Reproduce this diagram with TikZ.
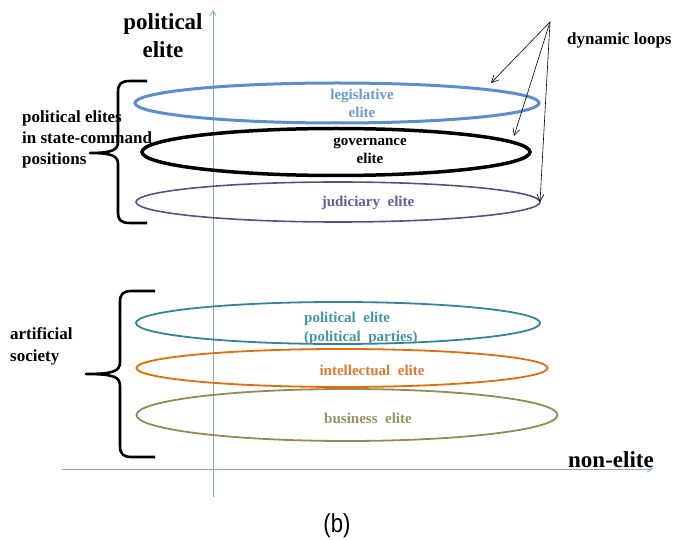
\documentclass[tikz,border=0pt]{standalone}
\usepackage{fontspec}
\setmainfont{Liberation Serif}
\newfontfamily\captionfont{Liberation Sans}
\usetikzlibrary{shapes.geometric,arrows.meta}
\definecolor{legc}{HTML}{5B8ED0}
\definecolor{legt}{HTML}{6A9AD4}
\definecolor{judc}{HTML}{5E4C87}
\definecolor{judt}{HTML}{6A5A96}
\definecolor{parc}{HTML}{31849B}
\definecolor{part}{HTML}{4595AA}
\definecolor{intc}{HTML}{E46C0A}
\definecolor{intt}{HTML}{E07A30}
\definecolor{busc}{HTML}{948A54}
\definecolor{bust}{HTML}{9B9060}
\definecolor{axisc}{HTML}{7FA8D2}
\tikzset{
  loop/.style={ellipse, draw, inner sep=0pt, outer sep=0pt},
  lbl/.style={font=\bfseries\fontsize{15}{18}\selectfont, align=center, inner sep=0pt},
  side/.style={font=\bfseries\fontsize{17}{21}\selectfont, align=left, inner sep=0pt, anchor=west},
  big/.style={font=\bfseries\fontsize{23}{28}\selectfont, align=center, inner sep=0pt},
  axisline/.style={draw=axisc, line width=0.8pt, -{Straight Barb[length=5pt,width=6pt]}},
  bracel/.style={line width=2.6pt, line join=round},
  looparrow/.style={draw=black, line width=0.6pt, -{Straight Barb[length=7pt,width=7pt]}}
}
\begin{document}
\begin{tikzpicture}[x=1pt,y=-1pt]
\useasboundingbox (0,0) rectangle (673,540);
% axes
\coordinate (ybot) at (213,497);
\coordinate (ytop) at (213,10);
\coordinate (xleft) at (62,469);
\coordinate (xright) at (653,469);
\draw[axisline] (ybot) -- (ytop);
\draw[axisline] (xleft) -- (xright);
% ellipses
\node[loop, draw=legc, line width=3pt, minimum width=404pt, minimum height=40pt] (leg) at (337,103) {};
\node[loop, draw=black, line width=3.5pt, minimum width=388pt, minimum height=47pt] (gov) at (336,152) {};
\node[loop, draw=judc, line width=1.6pt, minimum width=404pt, minimum height=40pt] (jud) at (338,202) {};
\node[loop, draw=parc, line width=1.8pt, minimum width=404pt, minimum height=42pt] (par) at (338,323) {};
\node[loop, draw=intc, line width=1.8pt, minimum width=411pt, minimum height=38pt] (int) at (342,368) {};
\node[loop, draw=busc, line width=1.8pt, minimum width=421pt, minimum height=52pt] (bus) at (347,415) {};
% ellipse labels
\node[lbl, text=legt] (legl) at (362,103) {legislative\\elite};
\node[lbl, text=black] (govl) at (370,151) {governance\\elite};
\node[lbl, text=judt] (judl) at (368,203) {judiciary\ \ elite};
\node[lbl, text=part, align=left, anchor=west, font=\bfseries\fontsize{15}{19}\selectfont] (parl) at (304,328) {political\ \ elite\\(political\ \ parties)};
\node[lbl, text=intt] (intl) at (372,370) {intellectual\ \ elite};
\node[lbl, text=bust] (busl) at (368,418) {business\ \ elite};
% titles
\node[big] (ytitle) at (163,36) {political\\elite};
\node[big, anchor=east] (xtitle) at (654,460) {non-elite};
\node[side] (upper) at (22,139) {political elites\\in state-command\\positions};
\node[side, font=\bfseries\fontsize{17}{22}\selectfont] (lower) at (10,346) {artificial\\society};
\node[side] (dyn) at (567,40) {dynamic loops};
\node[font=\captionfont\fontsize{26}{30}\selectfont, inner sep=0pt, xscale=0.85] (cap) at (337,526) {(b)};
% braces
\draw[bracel] (147,81) -- (130,81) .. controls (121,81) and (118,84) .. (118,92) -- (118,142)
  .. controls (118,150) and (112,153) .. (90,153) .. controls (112,153) and (118,156) .. (118,164)
  -- (118,213) .. controls (118,220) and (121,223) .. (130,223) -- (147,223);
\draw[bracel] (155,291) -- (132,291) .. controls (123,291) and (120,294) .. (120,302) -- (120,362)
  .. controls (120,371) and (114,374) .. (86,374) .. controls (114,374) and (120,377) .. (120,386)
  -- (120,446) .. controls (120,454) and (123,457) .. (132,457) -- (155,457);
% dynamic loop arrows
\coordinate (src) at (550,22);
\coordinate (legtip) at (491,83);
\coordinate (govtip) at (514,136);
\draw[looparrow] (src) -- (legtip);
\draw[looparrow] (src) -- (govtip);
\draw[looparrow] (src) -- (jud.east);
\end{tikzpicture}
\end{document}
